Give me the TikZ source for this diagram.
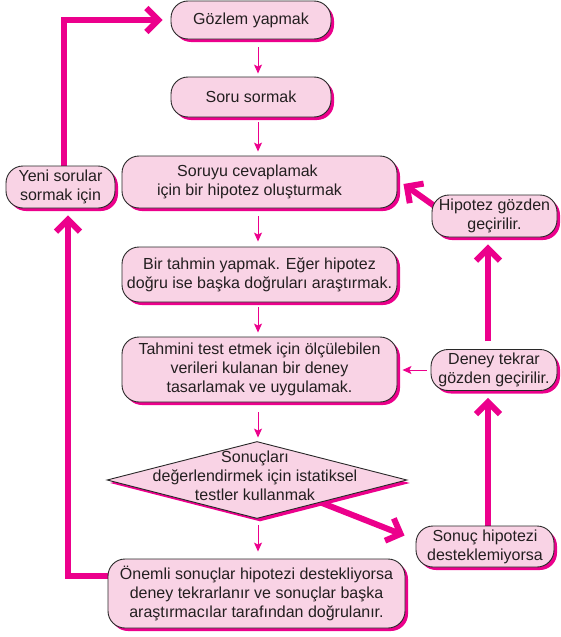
\documentclass[tikz,border=0pt]{standalone}
\usepackage{fontspec}
\setmainfont{Liberation Sans}
\usetikzlibrary{arrows.meta,shadows,shapes.geometric,calc}
\definecolor{mag}{RGB}{236,0,140}
\definecolor{pinkf}{RGB}{249,211,229}
\definecolor{bord}{RGB}{40,40,40}
\definecolor{txt}{RGB}{35,31,32}
\pgfdeclarelayer{bg}
\pgfsetlayers{bg,main}
\begin{document}
\begin{tikzpicture}[x=1pt,y=-1pt,
  shad/.style={drop shadow={shadow xshift=3pt,shadow yshift=-3pt,fill=mag,opacity=1}},
  box/.style={draw=bord,line width=0.9pt,fill=pinkf,rounded corners=17pt,inner sep=0pt,
    align=center,text=txt,font=\fontsize{16}{19}\selectfont,shad},
  dia/.style={shape=diamond,draw=bord,line width=0.9pt,fill=pinkf,inner sep=0pt,shad},
  plain/.style={inner sep=0pt,align=center,text=txt,font=\fontsize{16}{19}\selectfont},
  thinarr/.style={draw=mag,line width=1pt,-{Stealth[length=9pt,width=8pt,inset=2pt]}},
  thickarr/.style={draw=mag,line width=6pt,-{Straight Barb[length=12pt,width=24pt]}}]
\useasboundingbox (0,0) rectangle (561,637);
\coordinate (xl) at (258,0);
\coordinate (xt) at (64,0);
\coordinate (xb) at (68,0);
\coordinate (xr) at (488,0);

\node[box,minimum width=160pt,minimum height=38pt] (g) at (251,20) {Gözlem yapmak};
\node[box,minimum width=160pt,minimum height=40pt] (s) at (251,97) {Soru sormak};
\node[box,minimum width=275pt,minimum height=52pt] (c) at (259.5,182) {Soruyu cevaplamak\hspace*{24pt}\\için bir hipotez oluşturmak\hspace*{20pt}};
\node[box,minimum width=275pt,minimum height=55pt] (t) at (259.5,274.5) {Bir tahmin yapmak. Eğer hipotez\\doğru ise başka doğruları araştırmak.};
\node[box,minimum width=275pt,minimum height=65pt] (d) at (259.5,369.5) {Tahmini test etmek için ölçülebilen\\verileri kulanan bir deney\\tasarlamak ve uygulamak.};
\node[dia,minimum width=300pt,minimum height=77pt] (v) at (257,480) {};
\node[plain] (vt) at (255,476) {Sonuçları\\değerlendirmek için istatiksel\\testler kullanmak};
\node[box,minimum width=297pt,minimum height=69pt] (o) at (256.5,593.5) {Önemli sonuçlar hipotezi destekliyorsa\\deney tekrarlanır ve sonuçlar başka\\araştırmacılar tarafından doğrulanır.};
\node[box,minimum width=109pt,minimum height=42pt] (y) at (60.5,187) {Yeni sorular\\sormak için};
\node[box,minimum width=125pt,minimum height=42pt] (h) at (494.5,216) {Hipotez gözden\\geçirilir.};
\node[box,minimum width=126pt,minimum height=41pt] (r) at (494,370) {Deney tekrar\\gözden geçirilir.};
\node[box,minimum width=138pt,minimum height=41pt] (n) at (485,546.5) {Sonuç hipotezi\\desteklemiyorsa};

\draw[thinarr,shorten <=8pt,shorten >=3pt] (g.south -| xl) -- (s.north -| xl);
\draw[thinarr,shorten <=5pt,shorten >=4pt] (s.south -| xl) -- (c.north -| xl);
\draw[thinarr,shorten <=8pt,shorten >=5pt] (c.south -| xl) -- (t.north -| xl);
\draw[thinarr,shorten <=5pt,shorten >=4pt] (t.south -| xl) -- (d.north -| xl);
\draw[thinarr,shorten <=10pt,shorten >=3.5pt] (d.south -| xl) -- (v.north -| xl);
\draw[thinarr,shorten <=6.5pt,shorten >=7pt] (v.south -| xl) -- (o.north -| xl);
\draw[thinarr,shorten <=4pt,shorten >=5pt] (r.west) -- (d.east |- r.west);

\begin{pgfonlayer}{bg}
\draw[thickarr] ($(o.west)+(2,-17.5)$) -| ($(y.south -| xb)+(0,7)$);
\draw[thickarr] ($(y.north -| xt)+(0,5)$) |- ($(g.west)+(-8,0)$);
\draw[thickarr] ($(n.north -| xr)+(0,5)$) -- ($(r.south -| xr)+(0,7)$);
\draw[thickarr] ($(r.north -| xr)+(0,-8)$) -- ($(h.south -| xr)+(0,7)$);
\draw[thickarr] ($(h.west)+(10,-5)$) -- ($(c.east)+(6,2)$);
\draw[thickarr] ($(v.center)+(60,21)$) -- ($(n.west)+(-11,-11)$);
\end{pgfonlayer}
\end{tikzpicture}
\end{document}
